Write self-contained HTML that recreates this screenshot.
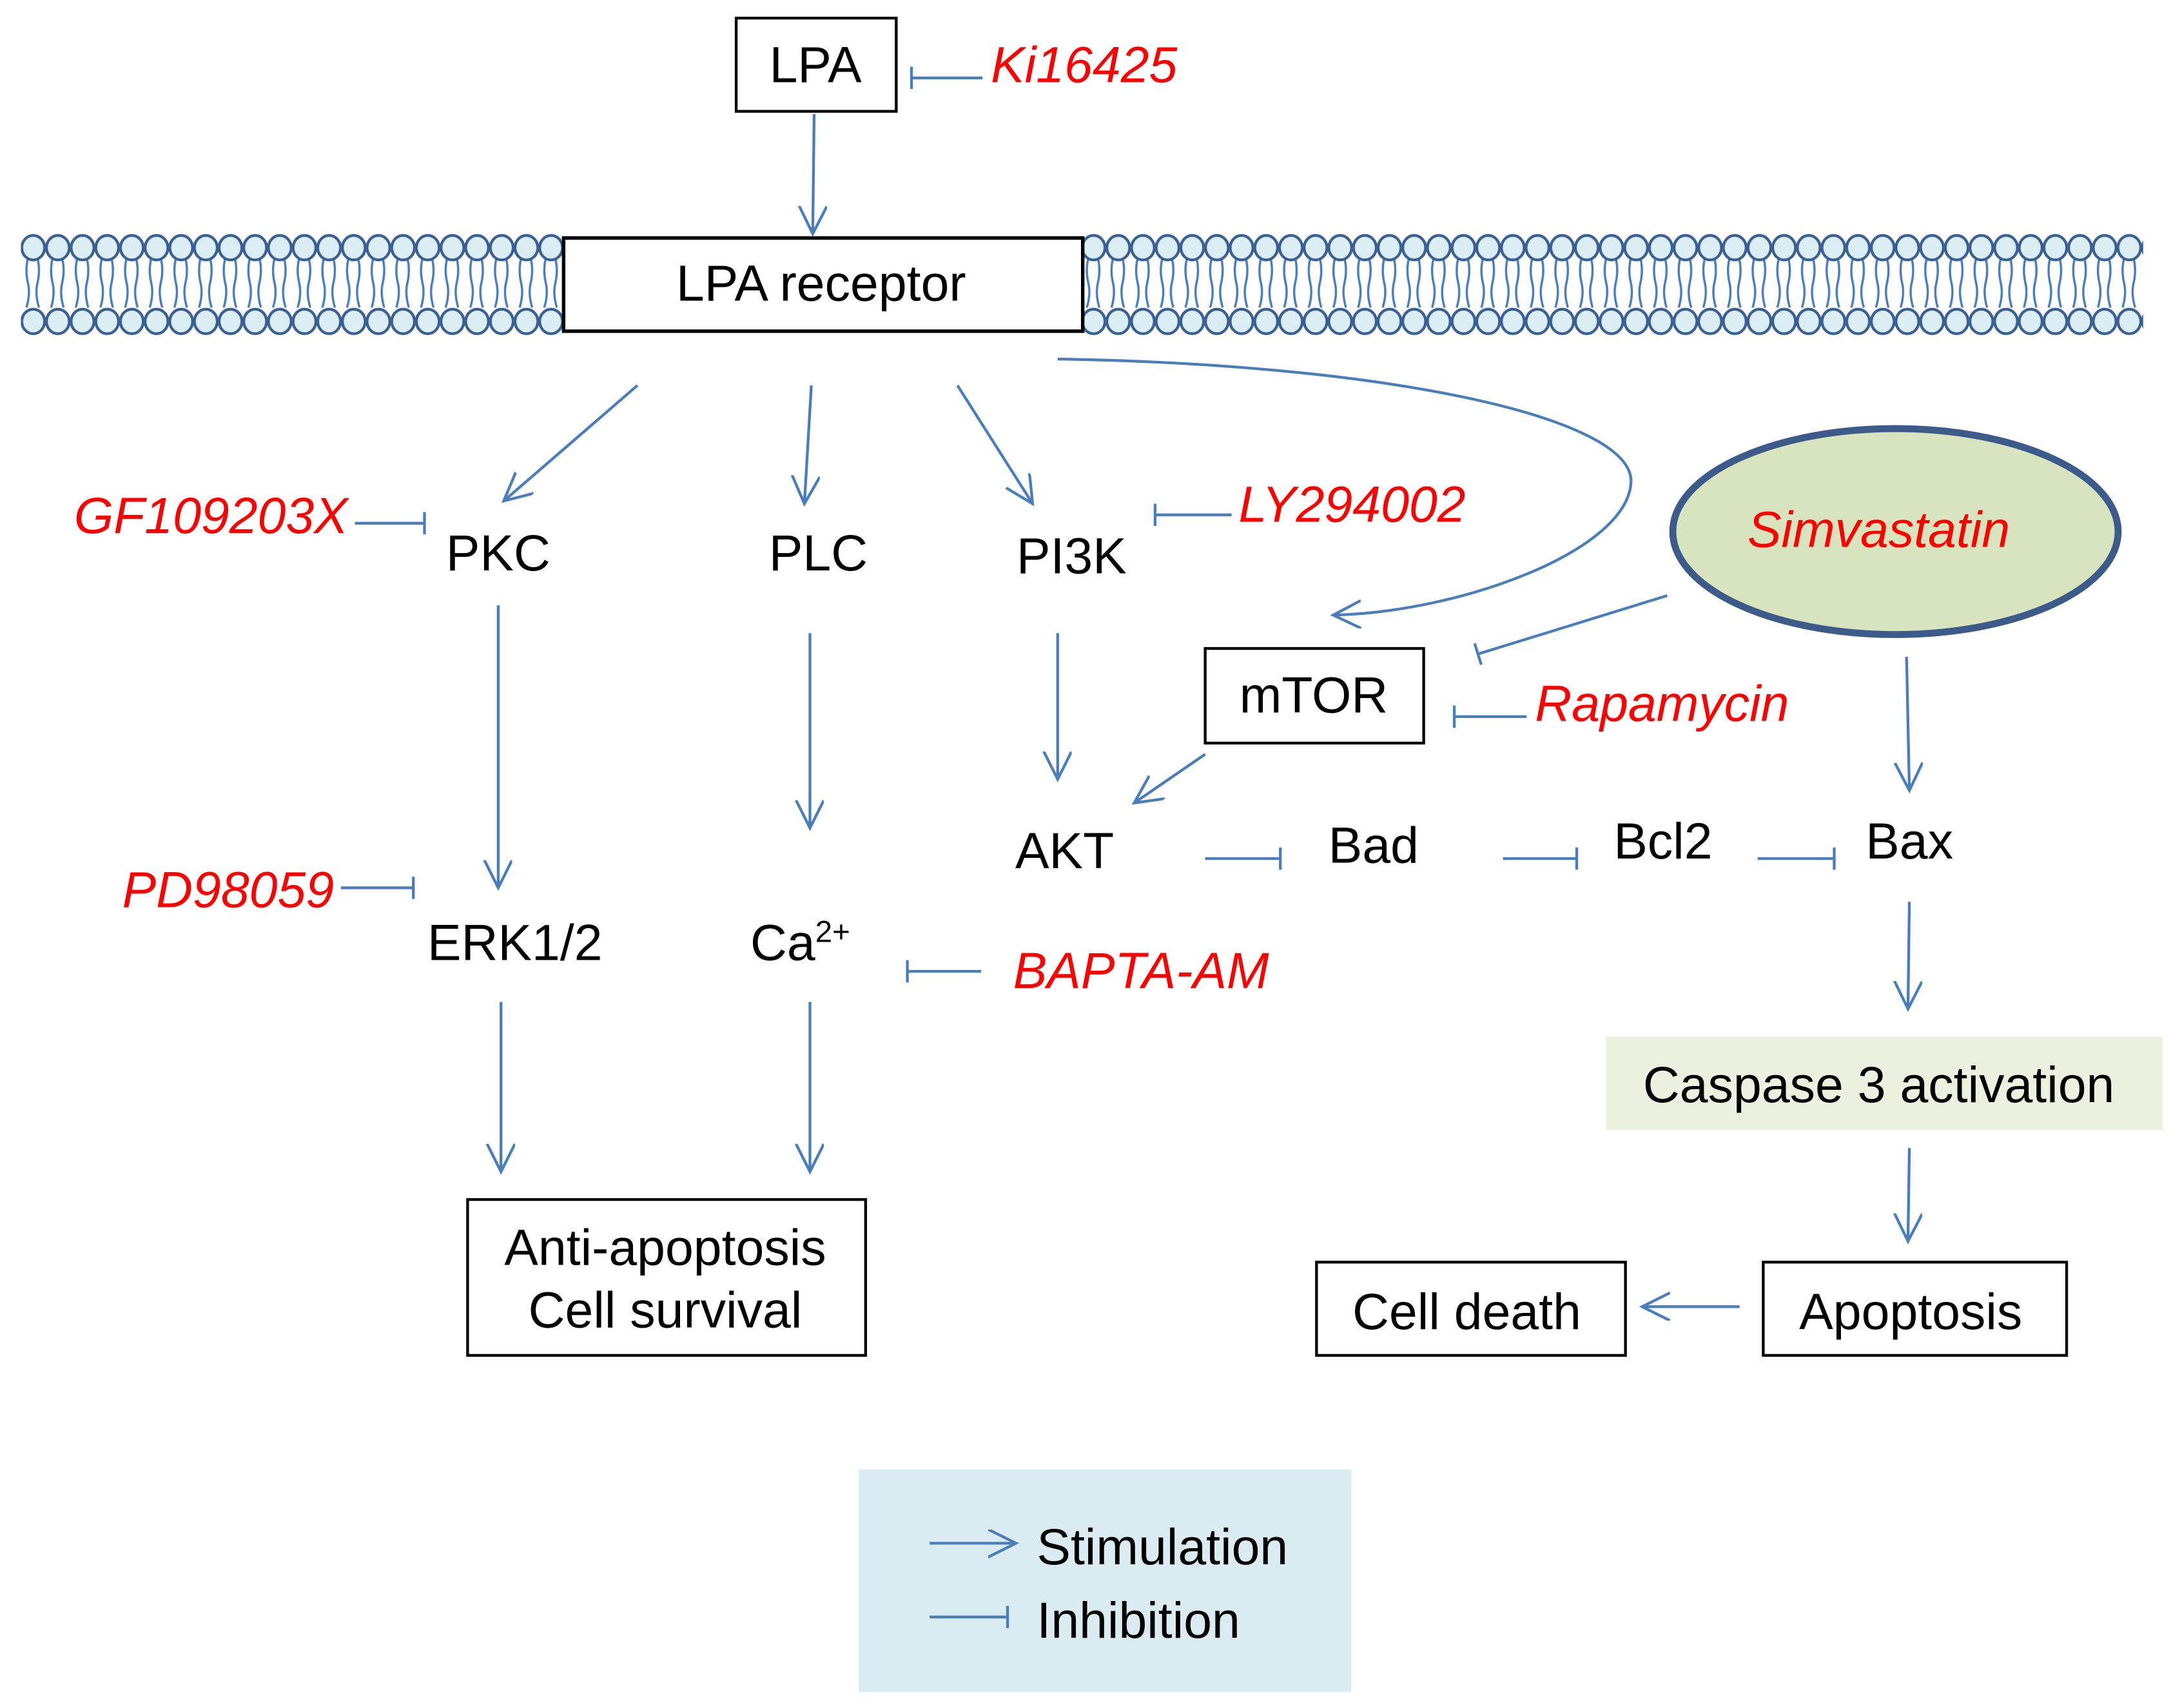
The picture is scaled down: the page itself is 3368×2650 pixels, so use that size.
<!DOCTYPE html>
<html><head><meta charset="utf-8"><style>
html,body{margin:0;padding:0;background:#fff}
svg{display:block}
text{font-family:"Liberation Sans",Arial,sans-serif;font-size:36.5px;fill:#000}
.r{fill:#ff0000;font-style:italic}
</style></head><body>
<svg width="3368" height="2650" viewBox="0 0 1560 1227.4" preserveAspectRatio="none" xmlns="http://www.w3.org/2000/svg">
<defs>
<pattern id="mem" patternUnits="userSpaceOnUse" x="15" y="168" width="17.72" height="74">
<g fill="none" stroke="#4a7ebb" stroke-width="1.6">
<path d="M5,18 q-2,8 0,17 q2,8 -1,18"/>
<path d="M12,18 q2,8 0,17 q-2,8 1,18"/>
</g>
<ellipse cx="8.86" cy="10" rx="8.2" ry="8.8" fill="#dbeef4" stroke="#3a5f95" stroke-width="2"/>
<ellipse cx="8.86" cy="63" rx="8.2" ry="8.8" fill="#dbeef4" stroke="#3a5f95" stroke-width="2"/>
</pattern>
<marker id="a" markerUnits="userSpaceOnUse" markerWidth="30" markerHeight="30" refX="20" refY="10" orient="auto">
<path d="M0,0 L20,10 L0,20" fill="none" stroke="#4a7ebb" stroke-width="2"/>
</marker>
<marker id="t" markerUnits="userSpaceOnUse" markerWidth="10" markerHeight="30" refX="2" refY="10" orient="auto">
<path d="M2,2 L2,18" fill="none" stroke="#4a7ebb" stroke-width="2"/>
</marker>
</defs>
<rect x="15" y="168" width="390" height="74" fill="url(#mem)"/>
<rect x="778" y="168" width="762" height="74" fill="url(#mem)"/>
<rect x="405" y="171" width="373" height="67" fill="#fff" stroke="#000" stroke-width="2.5"/>
<text x="590" y="216" text-anchor="middle">LPA receptor</text>

<rect x="529" y="13" width="115" height="67" fill="#fff" stroke="#000" stroke-width="2"/>
<text x="586" y="59" text-anchor="middle">LPA</text>
<text class="r" x="712" y="59">Ki16425</text>

<g fill="none" stroke="#4a7ebb" stroke-width="2">
<line x1="706" y1="56" x2="655" y2="56" marker-end="url(#t)"/>
<line x1="585" y1="82" x2="584" y2="168" marker-end="url(#a)"/>
<line x1="458" y1="277" x2="362" y2="360" marker-end="url(#a)"/>
<line x1="583" y1="277" x2="578" y2="362" marker-end="url(#a)"/>
<line x1="688" y1="277" x2="742" y2="362" marker-end="url(#a)"/>
<path d="M760,258 C1000,262 1170,300 1172,345 C1172,395 1050,440 958,442" marker-end="url(#a)"/>
<line x1="255" y1="376" x2="305" y2="376" marker-end="url(#t)"/>
<line x1="885" y1="370" x2="830" y2="370" marker-end="url(#t)"/>
<line x1="1198" y1="428" x2="1062" y2="470" marker-end="url(#t)"/>
<line x1="1097" y1="515" x2="1045" y2="515" marker-end="url(#t)"/>
<line x1="1370" y1="472" x2="1372" y2="568" marker-end="url(#a)"/>
<line x1="760" y1="455" x2="760" y2="560" marker-end="url(#a)"/>
<line x1="866" y1="542" x2="815" y2="577" marker-end="url(#a)"/>
<line x1="866" y1="617" x2="920" y2="617" marker-end="url(#t)"/>
<line x1="1080" y1="617" x2="1133" y2="617" marker-end="url(#t)"/>
<line x1="1263" y1="617" x2="1318" y2="617" marker-end="url(#t)"/>
<line x1="1372" y1="648" x2="1371" y2="725" marker-end="url(#a)"/>
<line x1="1372" y1="825" x2="1371" y2="892" marker-end="url(#a)"/>
<line x1="1250" y1="939" x2="1180" y2="939" marker-end="url(#a)"/>
<line x1="358" y1="435" x2="358" y2="638" marker-end="url(#a)"/>
<line x1="245" y1="638" x2="297" y2="638" marker-end="url(#t)"/>
<line x1="582" y1="455" x2="582" y2="595" marker-end="url(#a)"/>
<line x1="705" y1="698" x2="652" y2="698" marker-end="url(#t)"/>
<line x1="360" y1="720" x2="360" y2="842" marker-end="url(#a)"/>
<line x1="582" y1="720" x2="582" y2="842" marker-end="url(#a)"/>
</g>

<text x="358" y="410" text-anchor="middle">PKC</text>
<text x="588" y="410" text-anchor="middle">PLC</text>
<text x="770" y="412" text-anchor="middle">PI3K</text>
<text class="r" x="250" y="383" text-anchor="end">GF109203X</text>
<text class="r" x="890" y="375">LY294002</text>

<ellipse cx="1362" cy="382" rx="160" ry="74" fill="#d7e4bd" stroke="#3c5a8a" stroke-width="5"/>
<text class="r" x="1350" y="393" text-anchor="middle">Simvastatin</text>

<rect x="866" y="466" width="157" height="68" fill="#fff" stroke="#000" stroke-width="2"/>
<text x="944" y="512" text-anchor="middle">mTOR</text>
<text class="r" x="1103" y="518">Rapamycin</text>

<text x="765" y="624" text-anchor="middle">AKT</text>
<text x="987" y="620" text-anchor="middle">Bad</text>
<text x="1195" y="617" text-anchor="middle">Bcl2</text>
<text x="1372" y="617" text-anchor="middle">Bax</text>

<rect x="1154" y="745" width="400" height="67" fill="#ebf1de"/>
<text x="1350" y="792" text-anchor="middle">Caspase 3 activation</text>

<rect x="1267" y="907" width="218" height="67" fill="#fff" stroke="#000" stroke-width="2"/>
<text x="1373" y="955" text-anchor="middle">Apoptosis</text>
<rect x="946" y="907" width="222" height="67" fill="#fff" stroke="#000" stroke-width="2"/>
<text x="1054" y="955" text-anchor="middle">Cell death</text>

<text x="370" y="690" text-anchor="middle">ERK1/2</text>
<text class="r" x="240" y="652" text-anchor="end">PD98059</text>
<text x="575" y="690" text-anchor="middle">Ca<tspan font-size="22" dy="-13">2+</tspan></text>
<text class="r" x="728" y="710">BAPTA-AM</text>

<rect x="336" y="862" width="286" height="112" fill="#fff" stroke="#000" stroke-width="2"/>
<text x="478" y="909" text-anchor="middle">Anti-apoptosis</text>
<text x="478" y="954" text-anchor="middle">Cell survival</text>

<rect x="617" y="1056" width="354" height="160" fill="#daebf1"/>
<g fill="none" stroke="#4a7ebb" stroke-width="2">
<line x1="668" y1="1109" x2="730" y2="1109" marker-end="url(#a)"/>
<line x1="668" y1="1162" x2="724" y2="1162" marker-end="url(#t)"/>
</g>
<text x="745" y="1124">Stimulation</text>
<text x="745" y="1177">Inhibition</text>
</svg>
</body></html>
